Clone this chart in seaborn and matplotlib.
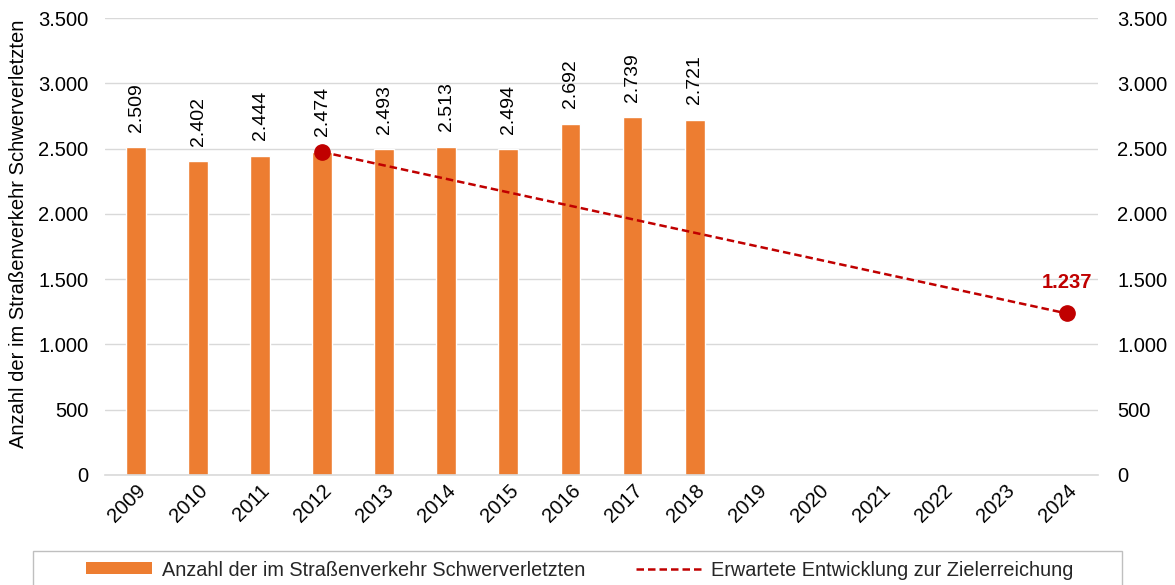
import matplotlib
matplotlib.use("Agg")
import matplotlib.pyplot as plt
import seaborn as sns
import numpy as np
import pandas as pd
from matplotlib.ticker import FuncFormatter, MultipleLocator
from matplotlib.patches import Patch, Rectangle
from matplotlib.lines import Line2D

years = [str(y) for y in range(2009, 2025)]
bar_years = ["2009", "2010", "2011", "2012", "2013", "2014", "2015", "2016", "2017", "2018"]
bar_values = [2509, 2402, 2444, 2474, 2493, 2513, 2494, 2692, 2739, 2721]
target_years = ["2012", "2024"]
target_values = [2474, 1237]

bar_label = "Anzahl der im Straßenverkehr Schwerverletzten"
line_label = "Erwartete Entwicklung zur Zielerreichung"
ylabel = "Anzahl der im Straßenverkehr Schwerverletzten"

sns.set_theme(style="white")
plt.rcParams["font.family"] = ["Liberation Sans", "DejaVu Sans"]

BAR = "#ED7D31"
RED = "#C00000"
FS = 14.5
DASH = (0, (3, 1.6))

df = pd.DataFrame({"year": years})
df["value"] = df["year"].map(dict(zip(bar_years, bar_values)))

fig = plt.figure(figsize=(11.75, 5.85), dpi=100)
ax = fig.add_axes([105 / 1175, 1 - 475 / 585, (1098 - 105) / 1175, (475 - 18) / 585])

sns.barplot(data=df, x="year", y="value", order=years, color=BAR, width=0.32,
            saturation=1, ax=ax)

for i, y in enumerate(years):
    v = df.loc[df["year"] == y, "value"].iloc[0]
    if not np.isnan(v):
        ax.text(i, v + 120, f"{int(v):,}".replace(",", "."), rotation=90,
                ha="center", va="bottom", fontsize=14, color="black")

tx = [years.index(y) for y in target_years]
ax.plot(tx, target_values, color=RED, linestyle=DASH, linewidth=1.8,
        marker="o", markersize=11, zorder=5)
ax.text(tx[-1], target_values[-1] + 165, f"{target_values[-1]:,}".replace(",", "."),
        color=RED, fontweight="bold", fontsize=FS, ha="center", va="bottom")

ax.set_ylim(0, 3500)
ax.set_xlim(-0.5, len(years) - 0.5)
ax.yaxis.set_major_locator(MultipleLocator(500))
fmt = FuncFormatter(lambda v, p: f"{int(v):,}".replace(",", "."))
ax.yaxis.set_major_formatter(fmt)
ax.grid(axis="y", color="#D9D9D9", linewidth=1)
ax.set_axisbelow(True)
for s in ["top", "right", "left"]:
    ax.spines[s].set_visible(False)
ax.spines["bottom"].set_color("#D9D9D9")
ax.spines["bottom"].set_linewidth(1.2)
ax.tick_params(axis="y", labelsize=FS, length=0, pad=12, colors="black")
ax.tick_params(axis="x", labelsize=FS, length=0, pad=4, colors="black")
plt.setp(ax.get_xticklabels(), rotation=45, ha="right", rotation_mode="anchor")
ax.set_xlabel("")
ax.set_ylabel(ylabel, fontsize=FS, color="black")
ax.yaxis.set_label_coords(-0.078, 0.527)

ax2 = ax.twinx()
ax2.set_ylim(ax.get_ylim())
ax2.yaxis.set_major_locator(MultipleLocator(500))
ax2.yaxis.set_major_formatter(fmt)
ax2.tick_params(axis="y", labelsize=FS, length=0, pad=14, colors="black")
for s in ax2.spines.values():
    s.set_visible(False)

handles = [Patch(facecolor=BAR, edgecolor="none"),
           Line2D([0], [0], color=RED, linestyle=DASH, linewidth=1.8)]
leg = fig.legend(handles, [bar_label, line_label], loc="center",
                 bbox_to_anchor=(580 / 1175, 1 - 570 / 585), ncol=2, frameon=False,
                 fontsize=14.3, handlelength=3.3, handleheight=0.55,
                 handletextpad=0.5, columnspacing=2.55, borderaxespad=0)
fig.patches.append(Rectangle((33 / 1175, -0.05), (1122 - 33) / 1175, 0.05 + (585 - 551) / 585,
                             transform=fig.transFigure, fill=False,
                             edgecolor="#BFBFBF", linewidth=1))

fig.savefig("out.png", dpi=100)
